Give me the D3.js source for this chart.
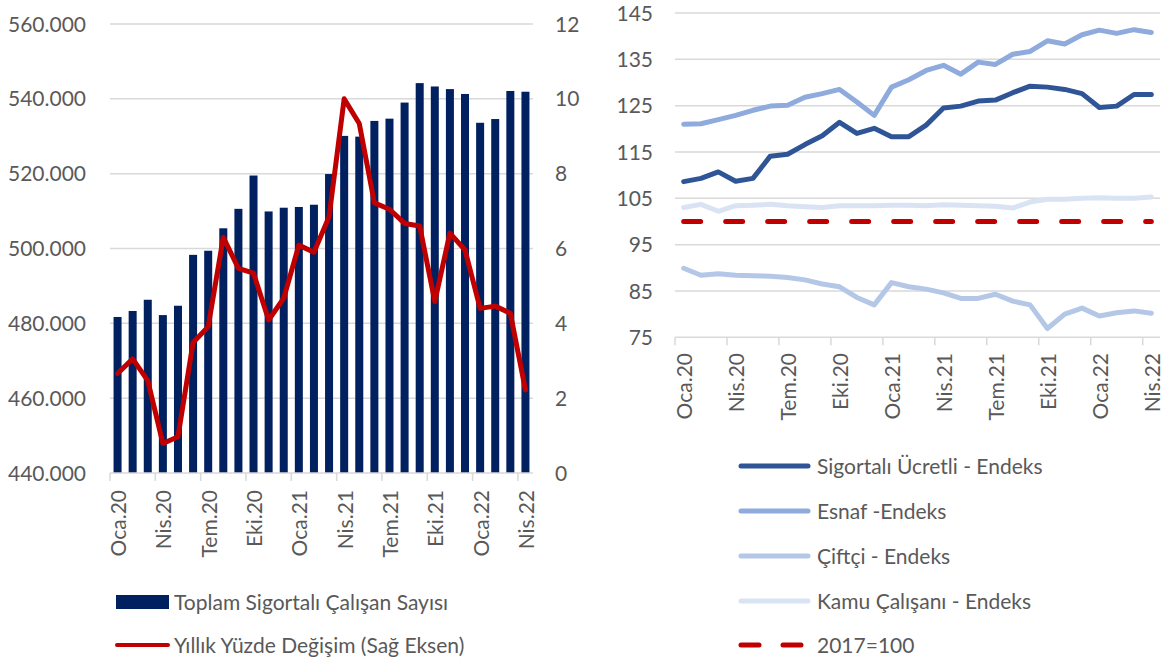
<!DOCTYPE html>
<html lang="tr">
<head>
<meta charset="UTF-8">
<title>Sigortalı Çalışan</title>
<script src="https://d3js.org/d3.v7.min.js"></script>
<style>
  body { margin: 0; background: #fff; }
  text { font-family: Lato, "Noto Sans", sans-serif; fill: #595959; }
</style>
</head>
<body>
<script>
var months = ['Oca.20','Şub.20','Mar.20','Nis.20','May.20','Haz.20','Tem.20','Ağu.20','Eyl.20','Eki.20','Kas.20','Ara.20',
              'Oca.21','Şub.21','Mar.21','Nis.21','May.21','Haz.21','Tem.21','Ağu.21','Eyl.21','Eki.21','Kas.21','Ara.21',
              'Oca.22','Şub.22','Mar.22','Nis.22'];

// left panel
var toplam = [481700, 483300, 486300, 482200, 484700, 498300, 499400, 505400, 510600, 519500, 509900, 510900,
              511100, 511700, 519900, 530100, 529900, 534100, 534700, 539000, 544200, 543300, 542600, 541300,
              533600, 534600, 542100, 541900];
var yillik = [2.66, 3.05, 2.47, 0.79, 0.97, 3.49, 3.91, 6.30, 5.47, 5.34, 4.09, 4.67,
              6.09, 5.9, 6.85, 10.0, 9.34, 7.22, 7.05, 6.67, 6.60, 4.58, 6.41, 5.96,
              4.40, 4.46, 4.27, 2.22];
var leftTicks = [440000, 460000, 480000, 500000, 520000, 540000, 560000];
var rightTicks = [0, 2, 4, 6, 8, 10, 12];

// right panel
var ucretli = [108.6, 109.3, 110.7, 108.7, 109.3, 114.1, 114.5, 116.6, 118.5, 121.4, 119.0, 120.1,
               118.3, 118.3, 120.8, 124.5, 124.9, 126.0, 126.2, 127.8, 129.2, 129.0, 128.5, 127.6,
               124.6, 124.9, 127.4, 127.4];
var esnaf = [121.0, 121.1, 122.0, 122.9, 124.0, 124.9, 125.1, 126.8, 127.6, 128.5, 125.8, 122.9,
             129.0, 130.6, 132.6, 133.7, 131.8, 134.4, 133.9, 136.1, 136.7, 139.0, 138.3, 140.3,
             141.3, 140.6, 141.4, 140.8];
var ciftci = [89.9, 88.4, 88.7, 88.4, 88.3, 88.2, 87.9, 87.4, 86.5, 85.9, 83.6, 82.0,
              86.8, 85.9, 85.4, 84.6, 83.4, 83.4, 84.3, 82.8, 82.0, 76.9, 80.0, 81.3,
              79.6, 80.3, 80.7, 80.2];
var kamu = [103.0, 103.7, 102.2, 103.4, 103.5, 103.7, 103.4, 103.2, 103.0, 103.4, 103.4, 103.4,
            103.5, 103.5, 103.4, 103.6, 103.5, 103.4, 103.3, 102.9, 104.2, 104.8, 104.8, 105.0,
            105.1, 105.0, 105.0, 105.3];
var baz = months.map(function() { return 100; });
var indexTicks = [75, 85, 95, 105, 115, 125, 135, 145];

var seriesNames = ['Sigortalı Ücretli - Endeks', 'Esnaf -Endeks', 'Çiftçi - Endeks', 'Kamu Çalışanı - Endeks', '2017=100'];
var seriesColors = ['#2F5597', '#8FAADC', '#B4C7E7', '#DAE3F3', '#C00000'];
var seriesData = [ucretli, esnaf, ciftci, kamu, baz];

var width = 1166, height = 661;
var svg = d3.select('body').append('svg')
            .attr('width', width)
            .attr('height', height);

var fmt = function(d) { return d3.format(',')(d).replace(/,/g, '.'); };

// ---------- left chart ----------
var L = { x0: 110, x1: 533, y0: 24, y1: 473 };

var xBand = d3.scaleBand()
              .domain(months)
              .range([L.x0, L.x1])
              .paddingInner(0.47)
              .paddingOuter(0.235);

var yLeft = d3.scaleLinear().domain([440000, 560000]).range([L.y1, L.y0]);
var yRight = d3.scaleLinear().domain([0, 12]).range([L.y1, L.y0]);

var left = svg.append('g');

left.selectAll('line.grid')
    .data(leftTicks.slice(1))
    .enter().append('line')
    .attr('x1', L.x0).attr('x2', L.x1)
    .attr('y1', function(d) { return yLeft(d); })
    .attr('y2', function(d) { return yLeft(d); })
    .attr('stroke', '#D9D9D9')
    .attr('stroke-width', 1.5);

left.selectAll('text.yl')
    .data(leftTicks)
    .enter().append('text')
    .attr('x', 86)
    .attr('y', function(d) { return yLeft(d); })
    .attr('dy', '0.36em')
    .attr('text-anchor', 'end')
    .style('font-size', '21px')
    .text(fmt);

left.selectAll('text.yr')
    .data(rightTicks)
    .enter().append('text')
    .attr('x', 555)
    .attr('y', function(d) { return yRight(d); })
    .attr('dy', '0.36em')
    .style('font-size', '21px')
    .text(function(d) { return d; });

left.selectAll('rect.bar')
    .data(toplam)
    .enter().append('rect')
    .attr('x', function(d, i) { return xBand(months[i]); })
    .attr('width', xBand.bandwidth())
    .attr('y', function(d) { return yLeft(d); })
    .attr('height', function(d) { return L.y1 - yLeft(d); })
    .attr('fill', '#002060');

// x axis line + ticks
left.append('line')
    .attr('x1', L.x0).attr('x2', L.x1)
    .attr('y1', L.y1).attr('y2', L.y1)
    .attr('stroke', '#D9D9D9').attr('stroke-width', 1.5);

var stepL = xBand.step();
left.selectAll('line.tick')
    .data(d3.range(0, months.length, 3))
    .enter().append('line')
    .attr('x1', function(i) { return L.x0 + i * stepL; })
    .attr('x2', function(i) { return L.x0 + i * stepL; })
    .attr('y1', L.y1).attr('y2', L.y1 + 8)
    .attr('stroke', '#D9D9D9').attr('stroke-width', 1.5);

left.selectAll('text.xl')
    .data(d3.range(0, months.length, 3))
    .enter().append('text')
    .attr('transform', function(i) {
        var cx = xBand(months[i]) + xBand.bandwidth() / 2 + 1;
        return 'translate(' + cx + ',490) rotate(-90)';
    })
    .attr('text-anchor', 'end')
    .attr('dy', '0.36em')
    .style('font-size', '21px')
    .text(function(i) { return months[i]; });

var redLine = d3.line()
                .x(function(d, i) { return xBand(months[i]) + xBand.bandwidth() / 2; })
                .y(function(d) { return yRight(d); });

left.append('path')
    .datum(yillik)
    .attr('d', redLine)
    .attr('fill', 'none')
    .attr('stroke', '#C00000')
    .attr('stroke-width', 5)
    .attr('stroke-linejoin', 'round')
    .attr('stroke-linecap', 'round');

// left legend
left.append('rect')
    .attr('x', 116).attr('y', 595)
    .attr('width', 53).attr('height', 14)
    .attr('fill', '#002060');
left.append('text')
    .attr('x', 174).attr('y', 602).attr('dy', '0.36em')
    .style('font-size', '21px')
    .text('Toplam Sigortalı Çalışan Sayısı');
left.append('line')
    .attr('x1', 117).attr('x2', 168)
    .attr('y1', 645).attr('y2', 645)
    .attr('stroke', '#C00000').attr('stroke-width', 4)
    .attr('stroke-linecap', 'round');
left.append('text')
    .attr('x', 174).attr('y', 645).attr('dy', '0.36em')
    .style('font-size', '21px')
    .text('Yıllık Yüzde Değişim (Sağ Eksen)');

// ---------- right chart ----------
var R = { x0: 675, x1: 1160, y0: 13, y1: 337.3 };

var xPoint = d3.scalePoint()
               .domain(months)
               .range([R.x0, R.x1])
               .padding(0.5);
var stepR = xPoint.step();

var yIdx = d3.scaleLinear().domain([75, 145]).range([R.y1, R.y0]);

var right = svg.append('g');

right.selectAll('line.grid')
     .data(indexTicks)
     .enter().append('line')
     .attr('x1', R.x0).attr('x2', R.x1)
     .attr('y1', function(d) { return yIdx(d); })
     .attr('y2', function(d) { return yIdx(d); })
     .attr('stroke', '#D9D9D9')
     .attr('stroke-width', 1.5);

right.selectAll('line.tick')
     .data(d3.range(0, months.length, 3))
     .enter().append('line')
     .attr('x1', function(i) { return R.x0 + i * stepR; })
     .attr('x2', function(i) { return R.x0 + i * stepR; })
     .attr('y1', R.y1).attr('y2', R.y1 + 8)
     .attr('stroke', '#D9D9D9').attr('stroke-width', 1.5);

right.selectAll('text.yl')
     .data(indexTicks)
     .enter().append('text')
     .attr('x', 653)
     .attr('y', function(d) { return yIdx(d); })
     .attr('dy', '0.36em')
     .attr('text-anchor', 'end')
     .style('font-size', '21px')
     .text(function(d) { return d; });

right.selectAll('text.xl')
     .data(d3.range(0, months.length, 3))
     .enter().append('text')
     .attr('transform', function(i) {
         return 'translate(' + (xPoint(months[i]) + 1) + ',353) rotate(-90)';
     })
     .attr('text-anchor', 'end')
     .attr('dy', '0.36em')
     .style('font-size', '21px')
     .text(function(i) { return months[i]; });

var idxLine = d3.line()
                .x(function(d, i) { return xPoint(months[i]); })
                .y(function(d) { return yIdx(d); });

// draw order: dashed base first, then series
right.append('path')
     .datum(baz)
     .attr('d', idxLine)
     .attr('fill', 'none')
     .attr('stroke', seriesColors[4])
     .attr('stroke-width', 5)
     .attr('stroke-dasharray', '17,25')
     .attr('stroke-linecap', 'round');

[3, 2, 1, 0].forEach(function(k) {
    right.append('path')
         .datum(seriesData[k])
         .attr('d', idxLine)
         .attr('fill', 'none')
         .attr('stroke', seriesColors[k])
         .attr('stroke-width', 5)
         .attr('stroke-linejoin', 'round')
         .attr('stroke-linecap', 'round');
});

// right legend
var legY = [466, 511, 556, 601, 645];
var leg = right.selectAll('g.leg')
               .data(seriesNames)
               .enter().append('g');
leg.append('line')
   .attr('x1', 741).attr('x2', 808)
   .attr('y1', function(d, i) { return legY[i]; })
   .attr('y2', function(d, i) { return legY[i]; })
   .attr('stroke', function(d, i) { return seriesColors[i]; })
   .attr('stroke-width', 5)
   .attr('stroke-linecap', 'round')
   .attr('stroke-dasharray', function(d, i) { return i === 4 ? '18,24' : null; });
leg.append('text')
   .attr('x', 817)
   .attr('y', function(d, i) { return legY[i]; })
   .attr('dy', '0.36em')
   .style('font-size', '21px')
   .text(function(d) { return d; });
</script>
</body>
</html>
